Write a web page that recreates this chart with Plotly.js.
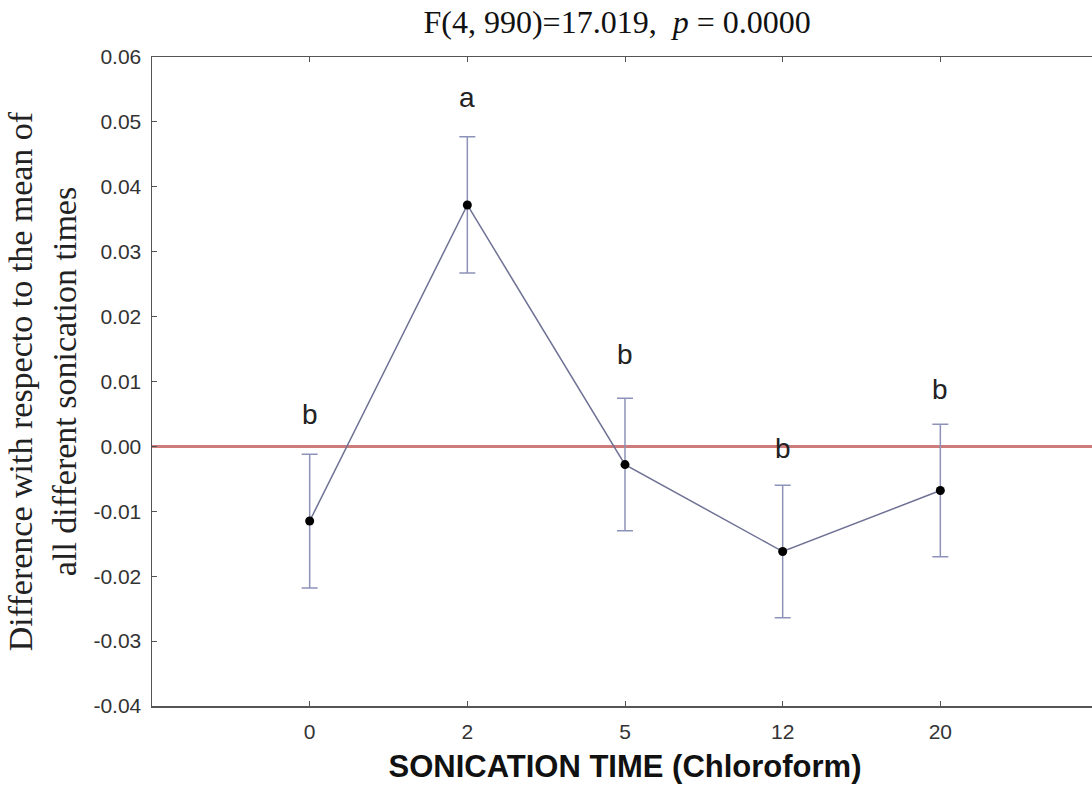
<!DOCTYPE html>
<html>
<head>
<meta charset="utf-8">
<script src="https://cdn.plot.ly/plotly-3.0.1.min.js"></script>
<style>
html,body{margin:0;padding:0;overflow:hidden;background:#fff;}
#chart{width:1100px;height:796px;}
</style>
</head>
<body>
<div id="chart"></div>
<script>
// Data
const categories = ['0', '2', '5', '12', '20'];
const catIndex = [0, 1, 2, 3, 4];
const meanDiff = [-0.0115, 0.0372, -0.0028, -0.0162, -0.0068];
const errHalf = [0.0103, 0.0105, 0.0102, 0.0102, 0.0102];
const groupLetters = ['b', 'a', 'b', 'b', 'b'];
const letterY = [0.0049, 0.0538, 0.0142, -0.0003, 0.0088];
const yTickVals = [-0.04, -0.03, -0.02, -0.01, 0.00, 0.01, 0.02, 0.03, 0.04, 0.05, 0.06];
const yTickLabels = ['-0.04', '-0.03', '-0.02', '-0.01', '0.00', '0.01', '0.02', '0.03', '0.04', '0.05', '0.06'];
const refLineY = 0;

const traces = [
  {
    x: [-1, 5], y: [refLineY, refLineY], mode: 'lines',
    line: {color: '#cd7b7b', width: 3}, hoverinfo: 'skip', showlegend: false
  },
  {
    x: catIndex, y: meanDiff, mode: 'lines+markers',
    line: {color: '#6f7294', width: 1.5},
    marker: {color: '#000', size: 9},
    error_y: {type: 'data', array: errHalf, visible: true, color: '#8d92b8', thickness: 1.5, width: 8},
    showlegend: false
  }
];

const annotations = groupLetters.map((t, i) => ({
  x: catIndex[i], y: letterY[i], xref: 'x', yref: 'y', text: t, showarrow: false,
  font: {family: 'Liberation Sans, Arial, sans-serif', size: 28, color: '#222'}
}));

const axisCommon = {
  showline: true, linecolor: '#555', linewidth: 1.5, mirror: 'ticks',
  ticks: 'inside', ticklen: 5, tickcolor: '#555', tickwidth: 1,
  showgrid: false, zeroline: false,
  tickfont: {family: 'Liberation Sans, Arial, sans-serif', size: 21, color: '#333'}
};

const layout = {
  width: 1100, height: 796,
  margin: {l: 152, r: 2, t: 57, b: 90},
  paper_bgcolor: '#fff', plot_bgcolor: '#fff',
  showlegend: false,
  title: {
    text: 'F(4, 990)=17.019,  <i>p</i> = 0.0000',
    font: {family: 'Liberation Serif, Times New Roman, serif', size: 32, color: '#111'},
    xref: 'container', x: 0.561, xanchor: 'center',
    yref: 'container', y: 0.972, yanchor: 'middle'
  },
  xaxis: Object.assign({}, axisCommon, {
    range: [-1, 5], tickmode: 'array', tickvals: catIndex, ticktext: categories,
    ticklabelstandoff: 6,
    title: {
      text: '<b>SONICATION TIME (Chloroform)</b>',
      font: {family: 'Liberation Sans, Arial, sans-serif', size: 31, color: '#111'},
      standoff: 13
    }
  }),
  yaxis: Object.assign({}, axisCommon, {
    range: [-0.04, 0.06], tickmode: 'array', tickvals: yTickVals, ticktext: yTickLabels,
    ticklabelstandoff: 5,
    title: {
      text: 'Difference with respecto to the mean of<br>all different sonication times',
      font: {family: 'Liberation Serif, Times New Roman, serif', size: 34, color: '#222'},
      standoff: 6
    }
  }),
  annotations: annotations
};

Plotly.newPlot('chart', traces, layout, {displayModeBar: false, staticPlot: true});
</script>
</body>
</html>
